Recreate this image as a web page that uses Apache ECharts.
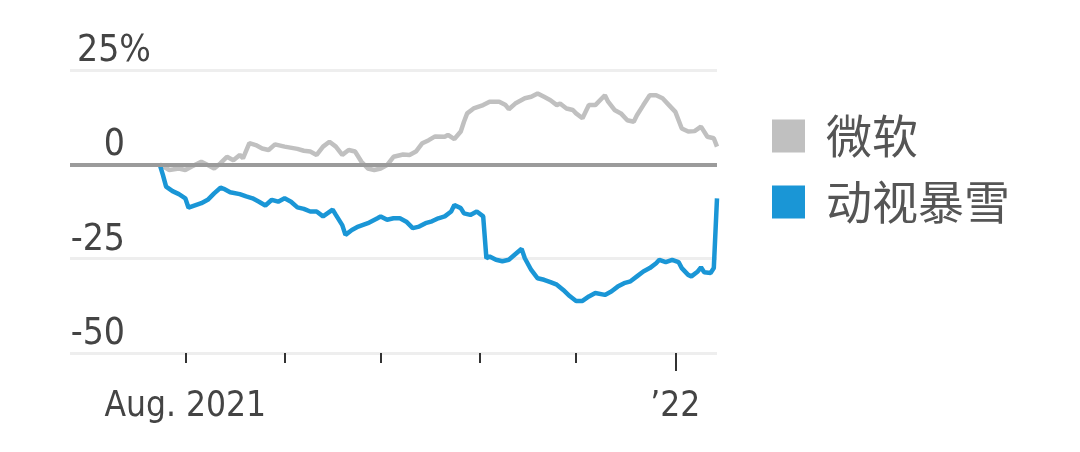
<!DOCTYPE html>
<html>
<head>
<meta charset="utf-8">
<script src="https://cdn.jsdelivr.net/npm/echarts@6/dist/echarts.min.js"></script>
<style>
html,body{margin:0;padding:0;background:#fff;}
#chart{width:1080px;height:452px;}
</style>
</head>
<body>
<div id="chart"></div>
<script>
// ---- Data (percent change since the start date) ----
const seriesNames = ['微软', '动视暴雪'];

const msftDates = ['2021-07-24','2021-07-27','2021-07-30','2021-08-01','2021-08-03','2021-08-06','2021-08-08','2021-08-10','2021-08-12','2021-08-14','2021-08-16','2021-08-18','2021-08-19','2021-08-21','2021-08-23','2021-08-25','2021-08-27','2021-08-29','2021-09-01','2021-09-05','2021-09-07','2021-09-09','2021-09-11','2021-09-13','2021-09-15','2021-09-17','2021-09-19','2021-09-21','2021-09-23','2021-09-25','2021-09-27','2021-09-29','2021-10-01','2021-10-03','2021-10-05','2021-10-08','2021-10-10','2021-10-12','2021-10-14','2021-10-16','2021-10-18','2021-10-21','2021-10-22','2021-10-24','2021-10-26','2021-10-27','2021-10-28','2021-10-30','2021-11-02','2021-11-04','2021-11-07','2021-11-09','2021-11-10','2021-11-12','2021-11-15','2021-11-17','2021-11-19','2021-11-21','2021-11-23','2021-11-25','2021-11-26','2021-11-28','2021-11-30','2021-12-01','2021-12-03','2021-12-05','2021-12-07','2021-12-10','2021-12-11','2021-12-13','2021-12-15','2021-12-17','2021-12-19','2021-12-20','2021-12-22','2021-12-24','2021-12-26','2021-12-28','2021-12-30','2022-01-01','2022-01-03','2022-01-05','2022-01-07','2022-01-09','2022-01-11','2022-01-13','2022-01-14'];
const msftValues = [0,-1.5,-1.1,-1.5,-0.6,0.7,-0.2,-1.1,0.3,2.0,1.1,2.5,1.6,5.6,5.1,4.2,3.8,5.3,4.7,4.1,3.6,3.4,2.5,4.7,6.0,4.7,2.5,3.8,3.4,0.7,-1.1,-1.5,-1.1,-0.2,2.0,2.6,2.5,3.4,5.6,6.4,7.4,7.3,7.8,6.7,8.7,11.3,13.5,14.8,15.7,16.6,16.6,15.7,14.6,16.1,17.5,17.9,18.8,17.9,17.0,15.7,16.1,14.8,14.4,13.5,12.2,15.7,15.7,18.3,16.6,14.4,13.5,11.7,11.3,13.0,15.7,18.3,18.3,17.5,15.7,13.9,9.5,8.7,8.8,10.0,7.3,6.9,4.7];

const atviDates = ['2021-07-24','2021-07-25','2021-07-26','2021-07-28','2021-07-30','2021-08-01','2021-08-02','2021-08-04','2021-08-06','2021-08-08','2021-08-10','2021-08-12','2021-08-13','2021-08-15','2021-08-18','2021-08-20','2021-08-22','2021-08-24','2021-08-26','2021-08-28','2021-08-30','2021-09-01','2021-09-03','2021-09-05','2021-09-07','2021-09-09','2021-09-11','2021-09-13','2021-09-16','2021-09-17','2021-09-19','2021-09-20','2021-09-22','2021-09-24','2021-09-27','2021-09-30','2021-10-01','2021-10-03','2021-10-05','2021-10-07','2021-10-09','2021-10-11','2021-10-13','2021-10-15','2021-10-17','2021-10-19','2021-10-21','2021-10-23','2021-10-24','2021-10-26','2021-10-27','2021-10-29','2021-10-31','2021-11-02','2021-11-03','2021-11-04','2021-11-06','2021-11-08','2021-11-10','2021-11-13','2021-11-14','2021-11-15','2021-11-17','2021-11-19','2021-11-21','2021-11-23','2021-11-25','2021-11-27','2021-11-29','2021-12-01','2021-12-03','2021-12-05','2021-12-07','2021-12-10','2021-12-12','2021-12-14','2021-12-16','2021-12-18','2021-12-20','2021-12-22','2021-12-24','2021-12-26','2021-12-27','2021-12-29','2021-12-31','2022-01-02','2022-01-03','2022-01-05','2022-01-06','2022-01-08','2022-01-09','2022-01-10','2022-01-12','2022-01-13','2022-01-14'];
const atviValues = [0,-2.8,-5.9,-7.1,-7.9,-9.0,-11.5,-10.9,-10.3,-9.4,-7.7,-6.2,-6.5,-7.4,-7.9,-8.5,-9.0,-9.9,-10.9,-9.4,-9.9,-9.0,-9.9,-11.4,-11.8,-12.5,-12.5,-13.8,-12.0,-13.4,-16.1,-18.7,-17.4,-16.5,-15.6,-14.3,-13.8,-14.7,-14.3,-14.3,-15.2,-16.9,-16.5,-15.6,-15.1,-14.3,-13.8,-12.5,-10.8,-11.6,-13.0,-13.4,-12.5,-13.8,-24.9,-24.4,-25.3,-25.7,-25.3,-23.1,-22.4,-24.9,-28.0,-30.2,-30.6,-31.2,-31.9,-33.3,-34.9,-36.2,-36.2,-35.0,-34.1,-34.6,-33.7,-32.4,-31.5,-31.0,-29.7,-28.4,-27.5,-26.2,-25.3,-25.9,-25.3,-25.9,-27.5,-29.3,-29.7,-28.4,-27.3,-28.6,-28.8,-27.5,-9.0];

const monthTickDates = ['2021-08-01','2021-09-01','2021-10-01','2021-11-01','2021-12-01','2022-01-01'];
const yearTickDates = ['2022-01-01'];
const xLabelDates = ['2021-08-01','2022-01-01'];
const xLabelTexts = ['Aug. 2021', '\u201922'];
const yTicks = [-50, -25, 0, 25];

// ---- helpers ----
const ts = s => Date.UTC(+s.slice(0, 4), +s.slice(5, 7) - 1, +s.slice(8, 10));
const zip = (d, v) => d.map((x, i) => [ts(x), v[i]]);
const labelFor = {};
xLabelDates.forEach((d, i) => { labelFor[ts(d)] = xLabelTexts[i]; });

const FONT = "'DejaVu Sans Condensed', 'Liberation Sans Narrow', sans-serif";
const xMin = ts('2021-06-26');
const xMax = ts('2022-01-14');

const chart = echarts.init(document.getElementById('chart'), null, {renderer: 'canvas'});
chart.setOption({
  animation: false,
  backgroundColor: '#ffffff',
  grid: {left: 70, right: 363, top: 70, bottom: 99},
  legend: {
    data: seriesNames,
    orient: 'vertical',
    left: 767,
    top: 106,
    icon: 'rect',
    itemWidth: 33,
    itemHeight: 33,
    itemGap: 16,
    selectedMode: false,
    textStyle: {
      fontFamily: "'Noto Sans CJK SC', sans-serif",
      fontSize: 46,
      lineHeight: 50,
      color: '#555555',
      padding: [0, 0, 0, 16]
    }
  },
  xAxis: [{
    type: 'value',
    min: xMin,
    max: xMax,
    axisLine: {show: false, onZero: false},
    splitLine: {show: false},
    axisTick: {
      show: true,
      customValues: monthTickDates.map(ts),
      length: 10,
      lineStyle: {color: '#333333', width: 2}
    },
    axisLabel: {
      show: true,
      customValues: xLabelDates.map(ts),
      formatter: v => labelFor[v] || '',
      margin: 36,
      fontFamily: FONT,
      fontSize: 35,
      color: '#444444',
      showMinLabel: true,
      showMaxLabel: true,
      hideOverlap: false
    }
  }, {
    type: 'value',
    min: xMin,
    max: xMax,
    position: 'bottom',
    axisLine: {show: false, onZero: false},
    splitLine: {show: false},
    axisLabel: {show: false},
    axisTick: {
      show: true,
      customValues: yearTickDates.map(ts),
      length: 18,
      lineStyle: {color: '#333333', width: 2}
    }
  }],
  yAxis: {
    type: 'value',
    min: yTicks[0],
    max: yTicks[yTicks.length - 1],
    interval: 25,
    axisLine: {show: false},
    axisTick: {show: false},
    splitLine: {lineStyle: {color: '#eeeeee', width: 3}},
    axisLabel: {
      inside: true,
      align: 'right',
      verticalAlign: 'bottom',
      margin: 81,
      padding: [0, 0, 0, 0],
      fontFamily: FONT,
      fontSize: 37,
      color: '#444444',
      formatter: v => v === 25 ? '{t|25%}' : '{n|' + v + '}',
      rich: {
        t: {fontFamily: FONT, fontSize: 37, color: '#444444'},
        n: {fontFamily: FONT, fontSize: 37, color: '#444444', padding: [0, 26, 0, 0]}
      }
    }
  },
  series: [{
    name: 'zero',
    type: 'line',
    data: [],
    z: 1,
    silent: true,
    markLine: {
      silent: true,
      symbol: ['none', 'none'],
      label: {show: false},
      lineStyle: {color: '#9b9b9b', width: 4, type: 'solid'},
      data: [{yAxis: 0}]
    }
  }, {
    name: seriesNames[0],
    type: 'line',
    data: zip(msftDates, msftValues),
    showSymbol: false,
    z: 3,
    color: '#c0c0c0',
    lineStyle: {color: '#c0c0c0', width: 4.5}
  }, {
    name: seriesNames[1],
    type: 'line',
    data: zip(atviDates, atviValues),
    showSymbol: false,
    z: 4,
    color: '#1a96d6',
    lineStyle: {color: '#1a96d6', width: 4.5}
  }]
});
</script>
</body>
</html>
